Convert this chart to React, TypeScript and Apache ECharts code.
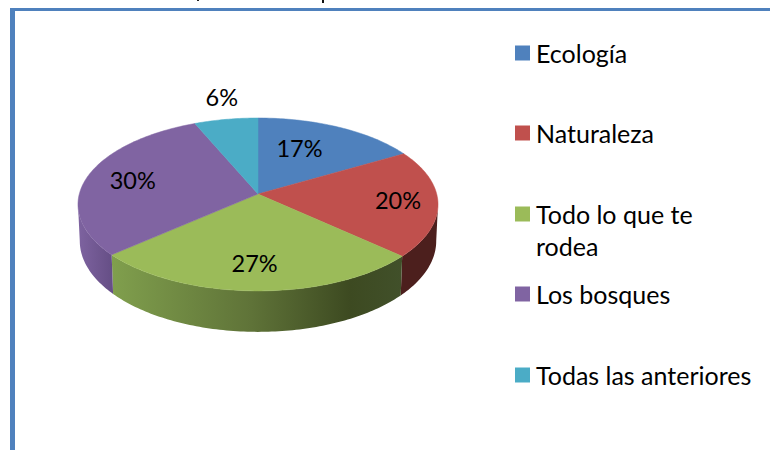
import React, { useEffect, useRef } from "react";
import * as echarts from "echarts";

const categories = ["Ecología", "Naturaleza", "Todo lo que te rodea", "Los bosques", "Todas las anteriores"];
const shares = [16.6, 20, 26.8, 29.9, 6.4];
const topColors = ["#4F81BD", "#C0504D", "#9BBB59", "#8064A2", "#4BACC6"];
const legendCentres = [53, 133, 214, 294, 375];
const labelRadii = [0.62, 0.78, 0.75, 0.73, 1.33];
const labelShifts = [-6.4, 0, 0.8, -0.8, 1.4];

const FONT = "Lato";
const CX = 258, CY = 194;
const A = 178.7, B = 85.2, K = 0.121, DEPTH = 36;

const project = (deg: number, r = 1): [number, number] => {
  const t = (deg * Math.PI) / 180;
  const u = r * Math.sin(t), v = -r * Math.cos(t);
  const w = 1 - K * v;
  return [CX + (A * u) / w, CY + (B * v) / w];
};
const dropped = (deg: number): [number, number] => {
  const t = (deg * Math.PI) / 180;
  const [x, y] = project(deg);
  return [CX + (x - CX) * 0.99, y + DEPTH / (1 + K * Math.cos(t))];
};
const arc = (from: number, to: number, fn: (d: number) => [number, number]) => {
  const steps = Math.max(2, Math.ceil(Math.abs(to - from)));
  const pts: [number, number][] = [];
  for (let i = 0; i <= steps; i++) pts.push(fn(from + ((to - from) * i) / steps));
  return pts;
};

const FRONT_FROM = (Math.acos(-K) * 180) / Math.PI;
const FRONT_TO = 360 - FRONT_FROM;

const sideFill = (i: number): any => {
  if (i === 1) return "#4C1F1D";
  if (i === 2)
    return new echarts.graphic.LinearGradient(0, 0, 1, 0, [
      { offset: 0, color: "#809F4D" },
      { offset: 0.48, color: "#5F7338" },
      { offset: 0.82, color: "#3D4A21" },
      { offset: 1, color: "#41502A" },
    ]);
  if (i === 3)
    return new echarts.graphic.LinearGradient(0, 0, 1, 0, [
      { offset: 0, color: "#7E63A0" },
      { offset: 1, color: "#654E85" },
    ]);
  return "#000";
};

const renderSlice = (i: number) => (_p: any, api: any) => {
  const total = shares.reduce((a, b) => a + b, 0);
  const before = api.value(0) as number;
  const value = api.value(1) as number;
  const a0 = (before / total) * 360;
  const a1 = ((before + value) / total) * 360;
  const children: any[] = [];
  const s0 = Math.max(a0, FRONT_FROM), s1 = Math.min(a1, FRONT_TO);
  if (s1 > s0) {
    const points = [...arc(s0, s1, project), ...arc(s1, s0, dropped)];
    children.push({ type: "polygon", shape: { points }, style: { fill: sideFill(i) } });
  }
  children.push({
    type: "polygon",
    shape: { points: [[CX, CY], ...arc(a0, a1, project)] },
    style: { fill: topColors[i], stroke: topColors[i], lineWidth: 0.5 },
  });
  const [lx, ly] = project((a0 + a1) / 2 + labelShifts[i], labelRadii[i]);
  children.push({
    type: "text",
    x: lx,
    y: ly - 1,
    style: {
      text: `${Math.round((value / total) * 100)}%`,
      fill: "#000",
      font: `23.5px ${FONT}`,
      align: "center",
      verticalAlign: "middle",
    },
  });
  return { type: "group", children };
};

export default function App() {
  const ref = useRef<HTMLDivElement>(null);
  useEffect(() => {
    const chart = echarts.init(ref.current!, null, { renderer: "svg" });
    let running = 0;
    const series = categories.map((name, i) => {
      const data = [[running, shares[i]]];
      running += shares[i];
      return {
        type: "custom",
        name,
        coordinateSystem: "none",
        silent: true,
        itemStyle: { color: topColors[i] },
        encode: { value: [0, 1] },
        renderItem: renderSlice(i),
        data,
      };
    });
    const legend = categories.map((name, i) => ({
      left: 515,
      top: legendCentres[i] - (i === 2 ? 48 : 16),
      orient: "vertical",
      selectedMode: false,
      icon: "rect",
      itemWidth: 15,
      itemHeight: 15,
      padding: 0,
      data: [name],
      formatter: i === 2 ? () => "\nTodo lo que te\nrodea" : undefined,
      textStyle: {
        color: "#000",
        fontFamily: FONT,
        fontSize: 25,
        lineHeight: 32,
        padding: [0, 0, 0, 1],
      },
    }));
    chart.setOption({
      animation: false,
      backgroundColor: "#fff",
      legend,
      series,
      graphic: [
        { type: "rect", shape: { x: 10, y: 8, width: 760, height: 3 }, style: { fill: "#4F81BD" } },
        { type: "rect", shape: { x: 10, y: 8, width: 5, height: 442 }, style: { fill: "#4F81BD" } },
        { type: "rect", shape: { x: 197, y: 0, width: 2, height: 1 }, style: { fill: "#222" } },
        { type: "rect", shape: { x: 322, y: 0, width: 2, height: 3 }, style: { fill: "#111" } },
      ],
    } as any);
    return () => chart.dispose();
  }, []);
  return <div ref={ref} style={{ position: "fixed", left: 0, top: 0, width: 770, height: 450 }} />;
}
